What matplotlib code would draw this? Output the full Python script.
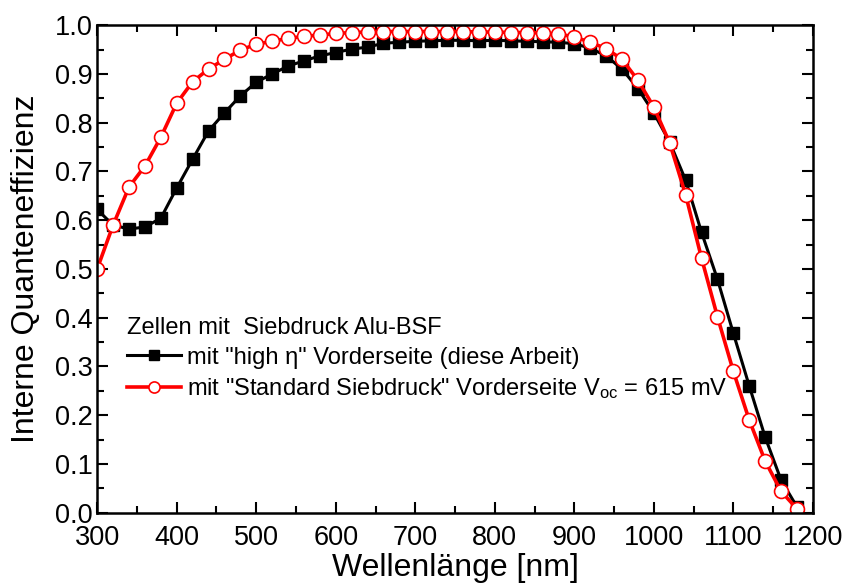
# plot.py

import numpy as np
import matplotlib
matplotlib.use("Agg")
import matplotlib.pyplot as plt
from matplotlib.ticker import MultipleLocator


# =========================================
# Data
# =========================================

wavelength = [300, 320, 340, 360, 380, 400, 420, 440, 460, 480,
              500, 520, 540, 560, 580, 600, 620, 640, 660, 680,
              700, 720, 740, 760, 780, 800, 820, 840, 860, 880,
              900, 920, 940, 960, 980, 1000, 1020, 1040, 1060, 1080,
              1100, 1120, 1140, 1160, 1180]

iqe_high_eta = [0.622, 0.590, 0.582, 0.586, 0.604, 0.666, 0.725, 0.783, 0.820, 0.855,
                0.883, 0.900, 0.916, 0.927, 0.937, 0.944, 0.951, 0.955, 0.963, 0.965,
                0.967, 0.968, 0.969, 0.969, 0.968, 0.969, 0.968, 0.967, 0.966, 0.965,
                0.962, 0.953, 0.937, 0.910, 0.870, 0.820, 0.760, 0.682, 0.575, 0.479,
                0.368, 0.260, 0.155, 0.067, 0.012]

iqe_standard = [0.500, 0.590, 0.668, 0.711, 0.770, 0.840, 0.884, 0.910, 0.930, 0.949,
                0.961, 0.967, 0.973, 0.977, 0.980, 0.983, 0.985, 0.986, 0.987, 0.987,
                0.987, 0.987, 0.987, 0.987, 0.986, 0.986, 0.985, 0.985, 0.984, 0.982,
                0.976, 0.965, 0.952, 0.930, 0.887, 0.832, 0.758, 0.652, 0.522, 0.402,
                0.290, 0.190, 0.106, 0.044, 0.008]


# =========================================
# Fonts
# =========================================

plt.rcParams["font.family"] = ["Liberation Sans", "DejaVu Sans"]
plt.rcParams["mathtext.fontset"] = "custom"
plt.rcParams["mathtext.rm"] = "Liberation Sans"
plt.rcParams["mathtext.it"] = "Liberation Sans"


# =========================================
# Plot
# =========================================

fig = plt.figure(figsize=(8.45, 5.86), dpi=100)
ax = fig.add_axes([0.115, 0.125, 0.847, 0.832])

ax.plot(wavelength, iqe_high_eta, color="black", lw=2.2,
        marker="s", ms=9, mfc="black", mec="black",
        label='mit "high η" Vorderseite (diese Arbeit)')

ax.plot(wavelength, iqe_standard, color="red", lw=2.6,
        marker="o", ms=10, mfc="white", mec="red", mew=1.2,
        label='mit "Standard Siebdruck" Vorderseite V$_{\\rm oc}$ = 615 mV')


# =========================================
# Axes
# =========================================

ax.set_xlim(300, 1200)
ax.set_ylim(0.0, 1.0)

ax.xaxis.set_major_locator(MultipleLocator(100))
ax.xaxis.set_minor_locator(MultipleLocator(50))
ax.yaxis.set_major_locator(MultipleLocator(0.1))
ax.yaxis.set_minor_locator(MultipleLocator(0.05))

ax.tick_params(which="both", direction="in", top=True, right=True,
               width=1.5, labelsize=19.5)
ax.tick_params(axis="x", which="both", pad=9)
ax.tick_params(axis="y", which="both", pad=3)
ax.tick_params(which="major", length=8)
ax.tick_params(which="minor", length=5)

ax.yaxis.set_major_formatter(plt.FormatStrFormatter("%.1f"))

for spine in ax.spines.values():
    spine.set_linewidth(1.8)

ax.set_xlabel("Wellenlänge [nm]", fontsize=23, labelpad=1)
ax.set_ylabel("Interne Quanteneffizienz", fontsize=23, labelpad=10)


# =========================================
# Legend
# =========================================

leg = ax.legend(title="Zellen mit  Siebdruck Alu-BSF",
                loc="upper left", bbox_to_anchor=(0.041, 0.401),
                frameon=False, fontsize=17, title_fontsize=17,
                handlelength=2.3, handletextpad=0.25,
                labelspacing=0.31, markerscale=0.8,
                borderpad=0.0, borderaxespad=0.0)
leg._legend_box.align = "left"


# =========================================
# Save
# =========================================

fig.savefig("out.png", dpi=100)
